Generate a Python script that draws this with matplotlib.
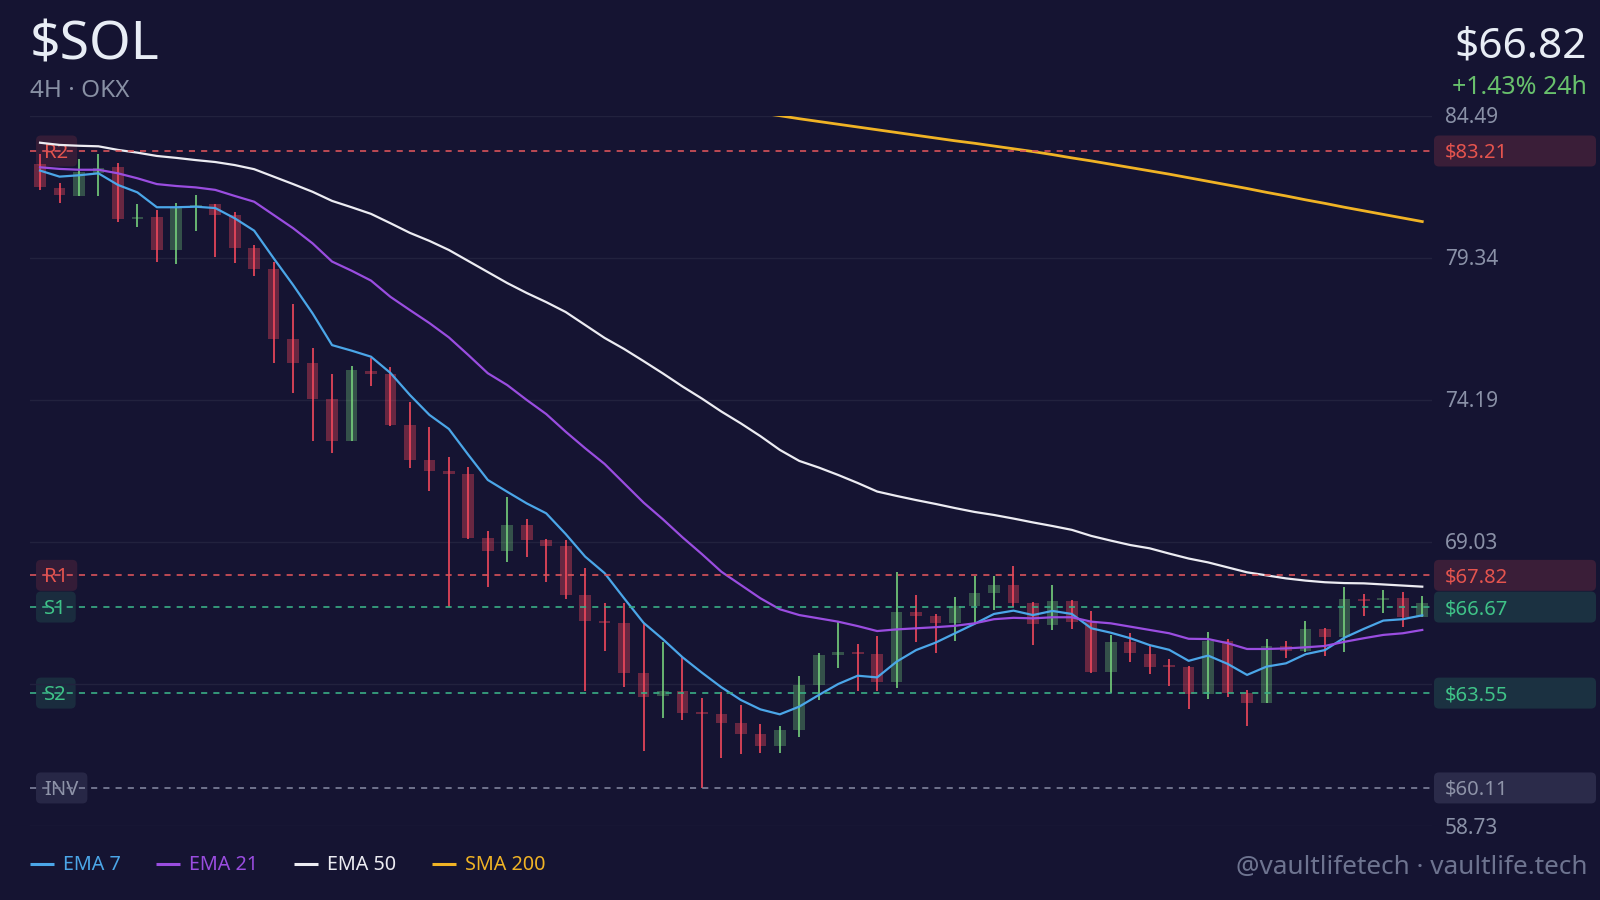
import numpy as np
import matplotlib.pyplot as plt
from matplotlib.patches import FancyBboxPatch

plt.rcParams['font.family'] = ['Noto Sans', 'DejaVu Sans']
plt.rcParams['lines.scale_dashes'] = False

# ---- data ----
symbol = '$SOL'
timeframe = '4H · OKX'
last_price = 66.82
change_24h = 1.43

opens = [82.74, 81.87, 81.59, 82.42, 82.62, 80.73, 80.81, 79.62, 81.17, 81.29,
         80.89, 79.68, 78.93, 76.38, 75.51, 74.22, 72.70, 75.24, 75.12, 73.28,
         72.00, 71.61, 71.49, 69.16, 68.70, 69.65, 69.10, 68.88, 67.11, 66.18,
         66.10, 64.27, 63.43, 63.62, 62.84, 62.79, 62.45, 62.07, 61.64, 62.21,
         63.83, 64.92, 65.03, 64.98, 63.94, 66.50, 66.35, 66.10, 66.71, 67.19,
         67.46, 66.83, 66.03, 66.90, 66.12, 64.33, 65.40, 64.98, 64.53, 64.51,
         63.52, 65.45, 63.56, 63.20, 65.27, 65.07, 65.88, 65.57, 66.95, 66.92,
         67.01, 66.32]
highs = [83.10, 82.04, 82.91, 83.10, 82.76, 81.29, 81.07, 81.31, 81.61, 81.30,
         81.00, 79.80, 79.20, 77.66, 76.05, 75.12, 75.41, 75.69, 75.37, 74.10,
         73.19, 72.10, 71.76, 69.42, 70.65, 69.88, 69.14, 69.10, 68.08, 66.81,
         66.81, 66.06, 65.41, 64.85, 63.36, 63.60, 63.12, 62.42, 62.37, 64.17,
         65.02, 66.12, 65.33, 65.62, 67.93, 67.11, 66.42, 67.05, 67.81, 67.81,
         68.16, 66.87, 67.47, 66.93, 66.53, 65.66, 65.72, 65.29, 64.79, 64.53,
         65.77, 65.50, 63.66, 65.50, 65.45, 66.17, 65.90, 67.39, 67.13, 67.29,
         67.23, 67.07]
lows = [81.80, 81.33, 81.59, 81.59, 80.65, 80.46, 79.20, 79.11, 80.32, 79.38,
        79.14, 78.69, 75.51, 74.42, 72.70, 72.27, 72.70, 74.69, 73.25, 71.72,
        70.89, 66.68, 69.13, 67.41, 68.32, 68.50, 67.57, 66.95, 63.63, 65.09,
        63.78, 61.46, 62.66, 62.57, 60.12, 61.21, 61.34, 61.39, 61.39, 61.97,
        63.30, 64.45, 63.64, 63.64, 63.75, 65.41, 64.99, 65.45, 66.06, 66.56,
        66.68, 65.29, 65.84, 65.86, 64.29, 63.56, 64.69, 64.24, 63.82, 62.96,
        63.33, 63.40, 62.36, 63.20, 64.81, 65.05, 64.90, 65.05, 66.35, 66.44,
        65.94, 66.32]
closes = [81.89, 81.60, 82.45, 82.59, 80.74, 80.81, 79.62, 81.17, 81.25, 80.89,
          79.68, 78.93, 76.38, 75.51, 74.22, 72.70, 75.27, 75.12, 73.28, 72.00,
          71.62, 71.49, 69.16, 68.70, 69.65, 69.10, 68.88, 67.11, 66.18, 66.10,
          64.27, 63.42, 63.62, 62.84, 62.79, 62.45, 62.07, 61.64, 62.21, 63.83,
          64.92, 65.03, 64.97, 63.94, 66.50, 66.35, 66.10, 66.71, 67.19, 67.46,
          66.83, 66.05, 66.90, 66.14, 64.33, 65.39, 64.99, 64.51, 64.49, 63.52,
          65.45, 63.56, 63.20, 65.26, 65.08, 65.86, 65.57, 66.95, 66.90, 67.01,
          66.32, 66.82]

ema7 = [82.50, 82.28, 82.33, 82.40, 81.98, 81.71, 81.17, 81.17, 81.19, 81.14,
        80.77, 80.32, 79.32, 78.35, 77.32, 76.17, 75.97, 75.75, 75.16, 74.36,
        73.64, 73.13, 72.19, 71.28, 70.85, 70.43, 70.07, 69.32, 68.50, 67.90,
        66.99, 66.10, 65.50, 64.85, 64.29, 63.76, 63.30, 62.96, 62.78, 63.06,
        63.48, 63.88, 64.18, 64.12, 64.69, 65.11, 65.38, 65.72, 66.06, 66.42,
        66.54, 66.38, 66.53, 66.42, 65.90, 65.74, 65.54, 65.29, 65.12, 64.72,
        64.91, 64.61, 64.21, 64.51, 64.63, 64.96, 65.11, 65.56, 65.88, 66.18,
        66.23, 66.37]
ema21 = [82.62, 82.56, 82.53, 82.53, 82.40, 82.22, 82.01, 81.94, 81.89, 81.80,
         81.58, 81.37, 80.89, 80.41, 79.86, 79.20, 78.87, 78.51, 77.92, 77.44,
         76.97, 76.45, 75.81, 75.15, 74.72, 74.18, 73.67, 73.03, 72.43, 71.86,
         71.16, 70.46, 69.85, 69.20, 68.59, 67.95, 67.47, 66.99, 66.59, 66.38,
         66.26, 66.14, 65.98, 65.80, 65.86, 65.90, 65.94, 65.99, 66.08, 66.23,
         66.28, 66.26, 66.30, 66.30, 66.14, 66.08, 65.96, 65.84, 65.72, 65.52,
         65.51, 65.36, 65.15, 65.15, 65.17, 65.21, 65.26, 65.41, 65.54, 65.66,
         65.72, 65.84]
ema50 = [83.51, 83.43, 83.40, 83.38, 83.25, 83.15, 83.03, 82.96, 82.88, 82.81,
         82.70, 82.55, 82.28, 82.01, 81.73, 81.40, 81.17, 80.93, 80.59, 80.24,
         79.95, 79.62, 79.22, 78.82, 78.42, 78.06, 77.73, 77.37, 76.90, 76.43,
         76.03, 75.59, 75.14, 74.67, 74.23, 73.76, 73.33, 72.87, 72.37, 71.97,
         71.73, 71.46, 71.17, 70.86, 70.70, 70.55, 70.41, 70.26, 70.12, 70.01,
         69.88, 69.74, 69.61, 69.47, 69.25, 69.08, 68.92, 68.80, 68.61, 68.43,
         68.29, 68.11, 67.93, 67.82, 67.71, 67.63, 67.57, 67.54, 67.53, 67.49,
         67.45, 67.41]
sma200_start = 37
sma200 = [84.59, 84.49, 84.38, 84.28, 84.18, 84.08, 83.98, 83.88, 83.78, 83.68,
          83.58, 83.49, 83.39, 83.29, 83.19, 83.08, 82.96, 82.85, 82.73, 82.61,
          82.49, 82.37, 82.24, 82.11, 81.98, 81.85, 81.71, 81.58, 81.44, 81.31,
          81.17, 81.04, 80.91, 80.78, 80.65]

level_names = ['R2', 'R1', 'S1', 'S2', 'INV']
level_prices = [83.21, 67.82, 66.67, 63.55, 60.11]
level_kinds = ['res', 'res', 'sup', 'sup', 'inv']

y_ticks = [84.49, 79.34, 74.19, 69.03, 63.88, 58.73]
y_tick_labels = ['84.49', '79.34', '74.19', '69.03', '', '58.73']

series_names = ['EMA 7', 'EMA 21', 'EMA 50', 'SMA 200']

# ---- style ----
BG = '#151432'
GRID = '#22223e'
UP = '#76d07c'
DOWN = '#f2485c'
C_EMA7 = '#4ba6e8'
C_EMA21 = '#9a4de0'
C_EMA50 = '#ececf2'
C_SMA200 = '#f0b325'
TICK = '#8a91a7'
level_style = {
    'res': dict(line='#d9535a', box='#3a1e38', text='#e5544e'),
    'sup': dict(line='#3aae86', box='#1b3141', text='#3fc388'),
    'inv': dict(line='#7f839c', box='#2b2b4a', text='#8e93a8'),
}

fig = plt.figure(figsize=(16, 9), dpi=100, facecolor=BG)

# overlay in pixel coords (y down), under the price axes
ov = fig.add_axes([0, 0, 1, 1], zorder=0)
ov.set_xlim(0, 1600)
ov.set_ylim(900, 0)
ov.axis('off')

ax = fig.add_axes([30.3 / 1600, 74 / 900, 1401.7 / 1600, 710.3 / 900], zorder=1)
ax.patch.set_alpha(0)
for s in ax.spines.values():
    s.set_visible(False)
ax.set_xticks([])
ax.set_yticks([])
n = len(closes)
ax.set_xlim(-0.5, n - 0.5)
ax.set_ylim(y_ticks[-1], y_ticks[0])

for t in y_ticks:
    ax.axhline(t, color=GRID, lw=1.0, zorder=0)

x = np.arange(n)
o = np.array(opens)
c = np.array(closes)
h = np.array(highs)
lo = np.array(lows)
up = c >= o
body_lo = np.minimum(o, c)
body_h = np.maximum(np.abs(c - o), 0.07)
ax.bar(x[up], body_h[up], bottom=body_lo[up], width=0.6, color=UP, alpha=0.33, zorder=2)
ax.bar(x[~up], body_h[~up], bottom=body_lo[~up], width=0.6, color=DOWN, alpha=0.38, zorder=2)
ax.vlines(x[up], lo[up], h[up], color=UP, lw=1.2, zorder=3)
ax.vlines(x[~up], lo[~up], h[~up], color=DOWN, lw=1.2, zorder=3)

ax.plot(x, ema7, color=C_EMA7, lw=1.6, zorder=4)
ax.plot(x, ema21, color=C_EMA21, lw=1.6, zorder=4)
ax.plot(x, ema50, color=C_EMA50, lw=1.6, zorder=4)
ax.plot(x[sma200_start:], sma200, color=C_SMA200, lw=2.0, zorder=4)

for name, price, kind in zip(level_names, level_prices, level_kinds):
    ax.axhline(price, color=level_style[kind]['line'], lw=1.2, dashes=(4.4, 4.4), zorder=5)


def to_px(price):
    disp = ax.transData.transform((0, price))
    return ov.transData.inverted().transform(disp)[1]


fig.canvas.draw()
renderer = fig.canvas.get_renderer()

# y tick labels on the right
for t, lab in zip(y_ticks, y_tick_labels):
    if lab:
        ov.text(1445, to_px(t) + 2, lab, color=TICK, fontsize=15, va='center', ha='left')

# level tags (left and right)
for name, price, kind in zip(level_names, level_prices, level_kinds):
    st = level_style[kind]
    yp = to_px(price)
    ov.add_patch(FancyBboxPatch((1434, yp - 15.5), 162, 31, boxstyle='round,pad=0,rounding_size=5',
                                fc=st['box'], ec='none', zorder=1))
    ov.text(1445, yp + 2, f'${price:.2f}', color=st['text'], fontsize=14.5, va='center', ha='left', zorder=2)
    tx = ov.text(44, yp + 2, name, color=st['text'], fontsize=14.5, va='center', ha='left', zorder=2)
    w = tx.get_window_extent(renderer).width + 17
    ov.add_patch(FancyBboxPatch((36, yp - 15.5), w, 31, boxstyle='round,pad=0,rounding_size=5',
                                fc=st['box'], ec='none', alpha=0.85, zorder=1))

# header
ov.text(30, 60, symbol, color='#e8edf5', fontsize=38.5, ha='left', va='baseline')
ov.text(30, 97, timeframe, color='#8890a4', fontsize=17.5, ha='left', va='baseline')
ov.text(1587, 57, f'${last_price:.2f}', color='#e8edf5', fontsize=30.5, ha='right', va='baseline')
ov.text(1587, 94, f'+{change_24h:.2f}% 24h', color='#68c06c', fontsize=18, ha='right', va='baseline')

# legend
leg_x = [30, 156, 294, 432]
for lx, name, col in zip(leg_x, series_names, [C_EMA7, C_EMA21, C_EMA50, C_SMA200]):
    ov.plot([lx, lx + 24], [864, 864], color=col, lw=2.2, solid_capstyle='butt')
    ov.text(lx + 33, 870, name, color=col, fontsize=14.2, ha='left', va='baseline')

ov.text(1587, 874, '@vaultlifetech · vaultlife.tech', color='#6e7490', fontsize=18.8,
        ha='right', va='baseline')

fig.savefig('out.png', dpi=100, facecolor=BG)
